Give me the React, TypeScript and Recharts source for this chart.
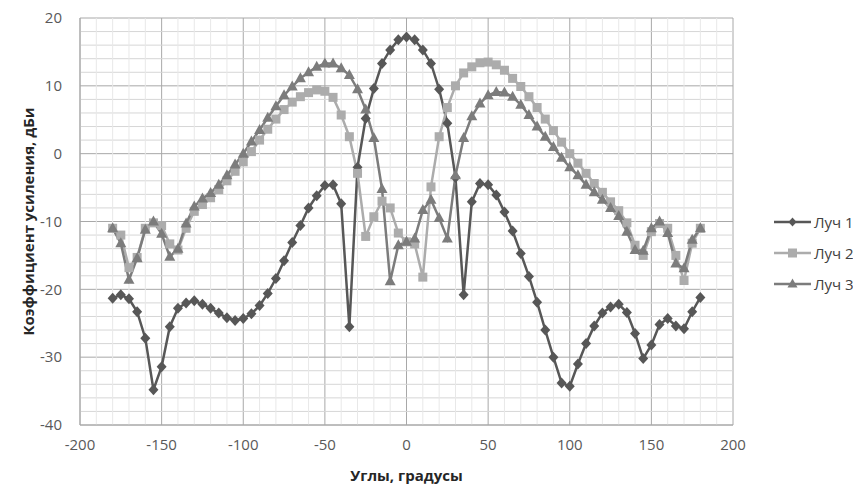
import React from 'react';
import { LineChart, Line, XAxis, YAxis, CartesianGrid, Legend, Label, ReferenceLine } from 'recharts';

const angles = [
  -180, -175, -170, -165, -160, -155, -150, -145, -140, -135, -130, -125, -120, -115, -110, -105, -100,
  -95, -90, -85, -80, -75, -70, -65, -60, -55, -50, -45, -40, -35, -30, -25, -20, -15, -10, -5,
  0, 5, 10, 15, 20, 25, 30, 35, 40, 45, 50, 55, 60, 65, 70, 75, 80, 85, 90, 95, 100,
  105, 110, 115, 120, 125, 130, 135, 140, 145, 150, 155, 160, 165, 170, 175, 180,
];

const luch1 = [
  -21.3, -20.8, -21.4, -23.3, -27.2, -34.8, -31.4, -25.5, -22.8, -22.0, -21.7, -22.2, -22.8, -23.5, -24.2, -24.6, -24.3,
  -23.6, -22.4, -20.6, -18.4, -15.8, -13.1, -10.6, -8.0, -6.2, -4.7, -4.6, -7.4, -25.5, -2.0, 5.2, 9.6, 13.3, 15.3, 16.8,
  17.2, 16.8, 15.3, 13.3, 9.5, 4.5, -3.5, -20.8, -7.1, -4.4, -4.6, -6.1, -8.6, -11.4, -14.7, -18.1, -21.9, -26.0, -30.0, -33.8, -34.3,
  -31.0, -28.0, -25.4, -23.5, -22.6, -22.2, -23.4, -26.5, -30.2, -28.2, -25.2, -24.3, -25.4, -25.8, -23.3, -21.2,
];

const luch2 = [
  -11.0, -12.0, -16.8, -15.3, -11.0, -10.2, -10.6, -13.3, -14.2, -11.0, -8.5, -7.5, -6.5, -5.3, -4.0, -2.6, -1.2,
  0.3, 2.0, 3.6, 5.1, 6.5, 7.6, 8.4, 9.0, 9.4, 9.2, 8.3, 5.7, 2.5, -2.9, -12.2, -9.3, -7.0, -8.0, -11.7,
  -13.0, -13.3, -18.2, -4.9, 2.5, 6.8, 10.0, 11.9, 12.8, 13.4, 13.5, 13.1, 12.3, 11.1, 9.9, 8.4, 6.8, 5.1, 3.4, 1.7, 0.0,
  -1.4, -2.9, -4.4, -5.7, -7.1, -8.4, -10.2, -13.5, -15.0, -11.5, -10.3, -11.0, -15.0, -18.7, -13.2, -11.0,
];

const luch3 = [
  -11.0, -13.2, -18.6, -15.4, -11.2, -10.0, -11.8, -15.2, -14.0, -10.3, -7.8, -6.6, -5.8, -4.6, -3.2, -1.6, 0.0,
  1.8, 3.5, 5.3, 7.0, 8.6, 9.9, 11.1, 12.0, 12.8, 13.3, 13.3, 12.6, 11.6, 9.5, 6.5, 2.3, -5.2, -18.8, -13.5,
  -13.0, -12.5, -8.3, -6.8, -9.5, -12.5, -3.2, 2.3, 5.5, 7.4, 8.6, 9.1, 9.0, 8.4, 7.2, 5.7, 4.0, 2.5, 1.0, -0.6, -2.0,
  -3.2, -4.6, -5.7, -6.8, -8.0, -9.2, -11.5, -14.2, -14.3, -11.0, -10.0, -11.7, -16.2, -16.9, -12.7, -11.0,
];

const seriesNames = ['Луч 1', 'Луч 2', 'Луч 3'];
const xTicks = [-200, -150, -100, -50, 0, 50, 100, 150, 200];
const yTicks = [-40, -30, -20, -10, 0, 10, 20];
const xMinor = [-190, -180, -170, -160, -140, -130, -120, -110, -90, -80, -70, -60, -40, -30, -20, -10,
  10, 20, 30, 40, 60, 70, 80, 90, 110, 120, 130, 140, 160, 170, 180, 190];
const yMinor = [-38, -36, -34, -32, -28, -26, -24, -22, -18, -16, -14, -12, -8, -6, -4, -2,
  2, 4, 6, 8, 12, 14, 16, 18];
const xTitle = 'Углы, градусы';
const yTitle = 'Коэффициент усиления, дБи';

const data = angles.map((a, i) => ({ angle: a, l1: luch1[i], l2: luch2[i], l3: luch3[i] }));

const C1 = '#575757';
const C2 = '#acacac';
const C3 = '#7c7c7c';
const FONT = '"Open Sans", sans-serif';

const diamond = (color: string) => (p: any) => {
  const { cx, cy, index } = p;
  if (cx == null || cy == null) return <g key={index} />;
  return <path key={index} d={`M${cx},${cy - 5.5}L${cx + 5},${cy}L${cx},${cy + 5.5}L${cx - 5},${cy}Z`} fill={color} />;
};
const square = (color: string) => (p: any) => {
  const { cx, cy, index } = p;
  if (cx == null || cy == null) return <g key={index} />;
  return <rect key={index} x={cx - 4.5} y={cy - 4.5} width={9} height={9} fill={color} />;
};
const triangle = (color: string) => (p: any) => {
  const { cx, cy, index } = p;
  if (cx == null || cy == null) return <g key={index} />;
  return <path key={index} d={`M${cx},${cy - 6}L${cx + 5.5},${cy + 4}L${cx - 5.5},${cy + 4}Z`} fill={color} />;
};

const legendItems = [
  { name: seriesNames[0], color: C1, shape: 'diamond' },
  { name: seriesNames[1], color: C2, shape: 'square' },
  { name: seriesNames[2], color: C3, shape: 'triangle' },
];

const LegendContent = () => (
  <div style={{ fontFamily: FONT, fontSize: 15, color: '#404040', whiteSpace: 'nowrap' }}>
    {legendItems.map((it) => (
      <div key={it.name} style={{ display: 'flex', alignItems: 'center', height: 31 }}>
        <svg width={38} height={16} style={{ display: 'block' }}>
          <line x1={0} y1={8} x2={37} y2={8} stroke={it.color} strokeWidth={2.5} />
          {it.shape === 'diamond' && <path d="M18.5,3.5L22.5,8L18.5,12.5L14.5,8Z" fill={it.color} />}
          {it.shape === 'square' && <rect x={14} y={3.5} width={9} height={9} fill={it.color} />}
          {it.shape === 'triangle' && <path d="M18.5,2.5L23.5,11.5L13.5,11.5Z" fill={it.color} />}
        </svg>
        <span style={{ marginLeft: 2 }}>{it.name}</span>
      </div>
    ))}
  </div>
);

export default function App() {
  return (
    <LineChart width={853} height={476} data={data} margin={{ top: 10, right: 128, bottom: 29, left: 0 }}>
      <CartesianGrid stroke="#a8a8a8" strokeWidth={1} />
      <XAxis
        dataKey="angle"
        type="number"
        domain={[-200, 200]}
        ticks={xTicks}
        height={30}
        tickSize={0}
        tickMargin={14}
        axisLine={{ stroke: '#a8a8a8' }}
        tick={{ fontSize: 15, fill: '#595959', fontFamily: FONT }}
        allowDataOverflow
      >
        <Label
          content={(p: any) => {
            const vb = p.viewBox;
            return (
              <text x={vb.x + vb.width / 2} y={vb.y + 50} textAnchor="middle" dominantBaseline="central"
                fontFamily={FONT} fontSize={15} fontWeight="bold" fill="#262626">{xTitle}</text>
            );
          }}
        />
      </XAxis>
      <YAxis
        type="number"
        domain={[-40, 20]}
        ticks={yTicks}
        width={72}
        tickSize={0}
        tickMargin={18}
        axisLine={{ stroke: '#a8a8a8' }}
        tick={{ fontSize: 15, fill: '#595959', fontFamily: FONT }}
        allowDataOverflow
      >
        <Label
          content={(p: any) => {
            const vb = p.viewBox;
            const x = vb.x + 20;
            const y = vb.y + vb.height / 2;
            return (
              <text x={x} y={y} transform={`rotate(-90, ${x}, ${y})`} textAnchor="middle" dominantBaseline="central"
                fontFamily={FONT} fontSize={15} fontWeight="bold" fill="#262626">{yTitle}</text>
            );
          }}
        />
      </YAxis>
      {yMinor.map((v) => (
        <ReferenceLine key={`y${v}`} y={v} stroke="#d6d6d6" strokeWidth={1} />
      ))}
      {xMinor.map((v) => (
        <ReferenceLine key={`x${v}`} x={v} stroke="#e8e8e8" strokeWidth={1} />
      ))}
      <Legend layout="vertical" align="center" verticalAlign="middle" wrapperStyle={{ left: 766, top: 198, width: 90 }} content={LegendContent} />
      <Line dataKey="l1" name={seriesNames[0]} stroke={C1} strokeWidth={2.5} dot={diamond(C1)} activeDot={false} isAnimationActive={false} />
      <Line dataKey="l2" name={seriesNames[1]} stroke={C2} strokeWidth={2.5} dot={square(C2)} activeDot={false} isAnimationActive={false} />
      <Line dataKey="l3" name={seriesNames[2]} stroke={C3} strokeWidth={2.5} dot={triangle(C3)} activeDot={false} isAnimationActive={false} />
    </LineChart>
  );
}
